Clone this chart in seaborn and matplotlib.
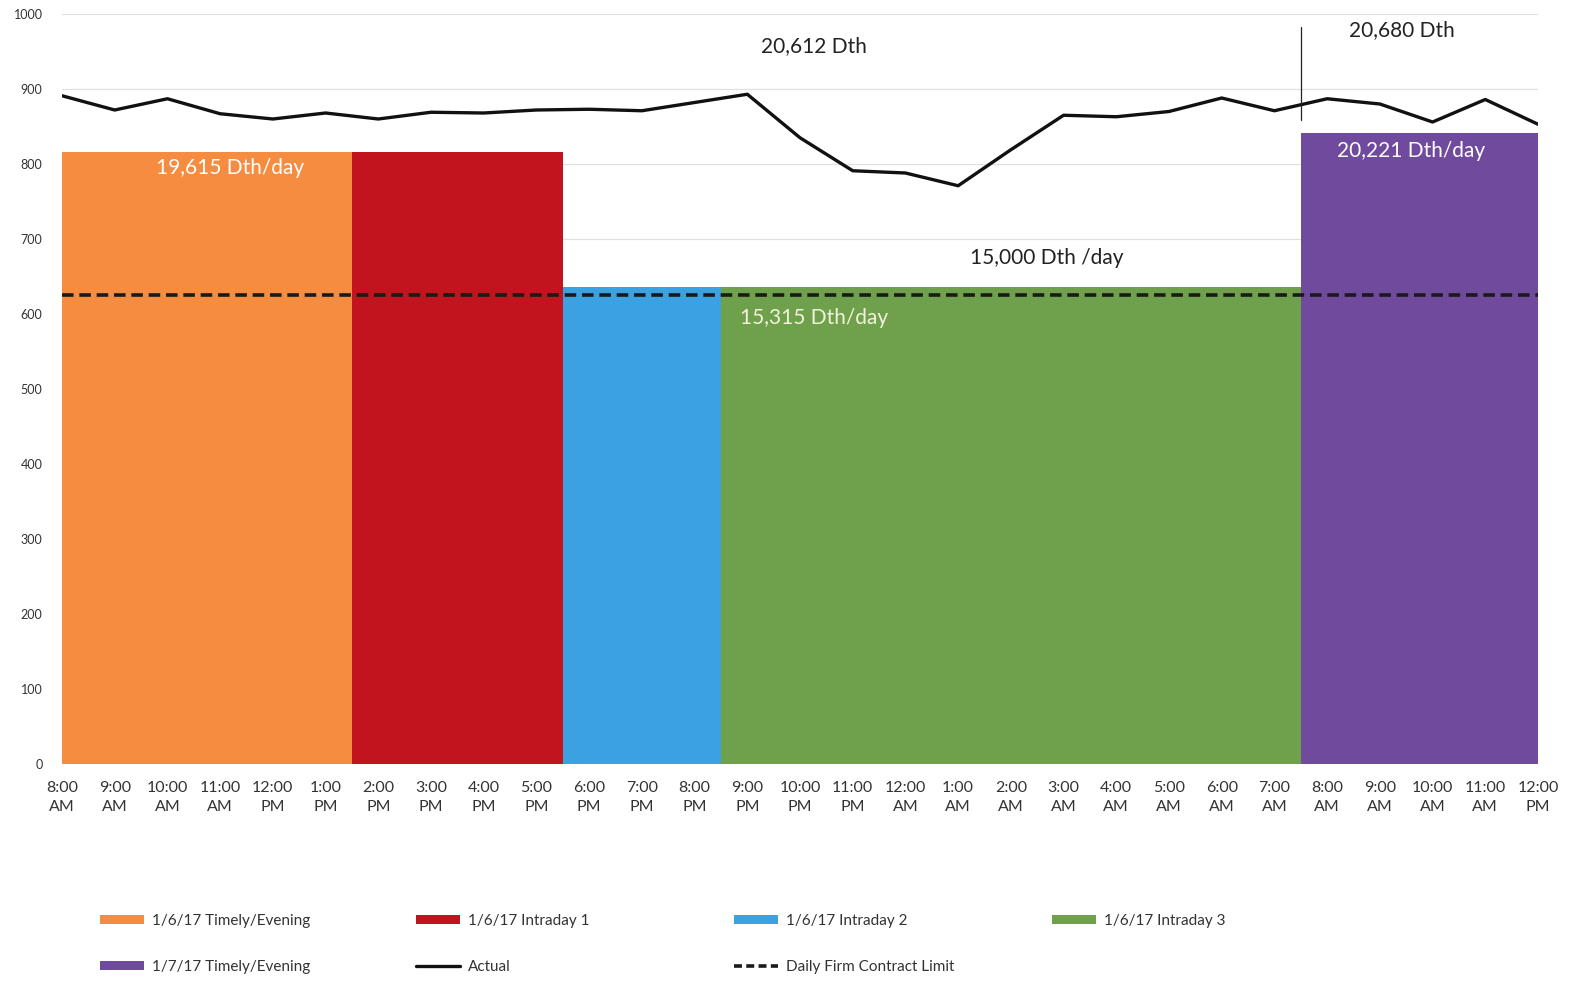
import numpy as np
import pandas as pd
import matplotlib
matplotlib.use("Agg")
import matplotlib.pyplot as plt
from matplotlib.patches import Patch
from matplotlib.lines import Line2D
import seaborn as sns

# hourly tick labels, 8:00 AM (1/6) through 12:00 PM (1/7)
hour_labels = ["8:00\nAM", "9:00\nAM", "10:00\nAM", "11:00\nAM", "12:00\nPM", "1:00\nPM",
               "2:00\nPM", "3:00\nPM", "4:00\nPM", "5:00\nPM", "6:00\nPM", "7:00\nPM",
               "8:00\nPM", "9:00\nPM", "10:00\nPM", "11:00\nPM", "12:00\nAM", "1:00\nAM",
               "2:00\nAM", "3:00\nAM", "4:00\nAM", "5:00\nAM", "6:00\nAM", "7:00\nAM",
               "8:00\nAM", "9:00\nAM", "10:00\nAM", "11:00\nAM", "12:00\nPM"]

# actual hourly flow (Dth/hr)
actual = [891, 872, 887, 867, 860, 868, 860, 869, 868, 872, 873, 871, 882, 893, 835,
          791, 788, 771, 819, 865, 863, 870, 888, 871, 887, 880, 856, 886, 853]

# nomination blocks: start / end (hour index) and hourly rate
block_names = ["1/6/17 Timely/Evening", "1/6/17 Intraday 1", "1/6/17 Intraday 2",
               "1/6/17 Intraday 3", "1/7/17 Timely/Evening"]
block_start = [0, 5.5, 9.5, 12.5, 23.5]
block_end = [5.5, 9.5, 12.5, 23.5, 28]
block_rate = [816, 816, 636, 636, 841]
block_colors = ["#F58C3F", "#C0141F", "#3CA1E1", "#6FA04B", "#6F4A9D"]

contract_limit = 625  # 15,000 Dth/day

# gas-day divider
divider_x = 23.5
divider_span = (858, 982)

# annotations: text, x, y, colour
notes = [("20,612 Dth", 14.27, 957, "#222222"),
         ("20,680 Dth", 25.42, 979, "#222222"),
         ("15,000 Dth /day", 18.69, 675, "#222222"),
         ("19,615 Dth/day", 3.19, 795, "white"),
         ("15,315 Dth/day", 14.27, 595, "#F2F2DC"),
         ("20,221 Dth/day", 25.6, 817, "white")]

sns.set_theme(style="white")
plt.rcParams['font.family'] = ['Lato', 'DejaVu Sans']

fig = plt.figure(figsize=(15.75, 9.81), dpi=100)
ax = fig.add_axes([62 / 1575, (981 - 764) / 981, (1538 - 62) / 1575, 750 / 981])

# gridlines
for v in range(0, 1001, 100):
    ax.axhline(v, color="#E0E0E0", lw=0.9, zorder=0)

# blocks
widths = np.array(block_end) - np.array(block_start)
ax.bar(block_start, block_rate, width=widths, align="edge", color=block_colors,
       linewidth=0, zorder=1)

# contract limit
ax.axhline(contract_limit, color="#1a1a1a", lw=2.6, ls=(0, (3.2, 1.6)), zorder=3)

# actual
df = pd.DataFrame({"hour": np.arange(len(actual)), "actual": actual})
sns.lineplot(data=df, x="hour", y="actual", ax=ax, color="#111111", lw=2.4, zorder=4)

ax.plot([divider_x, divider_x], divider_span, color="#222222", lw=0.9, zorder=4,
        clip_on=False)

for txt, x, y, c in notes:
    ax.text(x, y, txt, color=c, fontsize=15, ha="center", va="center", zorder=5)

ax.set_xlim(0, 28)
ax.set_ylim(0, 1000)
ax.set_xticks(range(len(hour_labels)))
ax.set_xticklabels(hour_labels, fontsize=11.5, color="#333333", linespacing=1.5)
ax.set_yticks(range(0, 1001, 100))
ax.set_yticklabels([str(v) for v in range(0, 1001, 100)], fontsize=9, color="#333333")
ax.tick_params(axis="x", length=0, pad=12)
ax.tick_params(axis="y", length=0, pad=14)
ax.set_xlabel("")
ax.set_ylabel("")
for s in ax.spines.values():
    s.set_visible(False)

# legend, laid out in four columns
patches = [Patch(facecolor=c, edgecolor="none", label=n) for n, c in zip(block_names, block_colors)]
actual_h = Line2D([], [], color="#111111", lw=2.4, label="Actual")
limit_h = Line2D([], [], color="#1a1a1a", lw=2.6, ls=(0, (2.2, 1.2)), label="Daily Firm Contract Limit")
columns = [[patches[0], patches[4]], [patches[1], actual_h], [patches[2], limit_h], [patches[3]]]
col_x = [100, 416, 734, 1052]
for handles, x in zip(columns, col_x):
    fig.legend(handles=handles, loc="upper left", bbox_to_anchor=(x / 1575, (981 - 914) / 981),
               frameon=False, fontsize=11, handlelength=2.9, handleheight=0.55,
               handletextpad=0.5, labelspacing=2.1, borderpad=0, borderaxespad=0,
               labelcolor="#333333")

fig.savefig("out.png", dpi=100)
